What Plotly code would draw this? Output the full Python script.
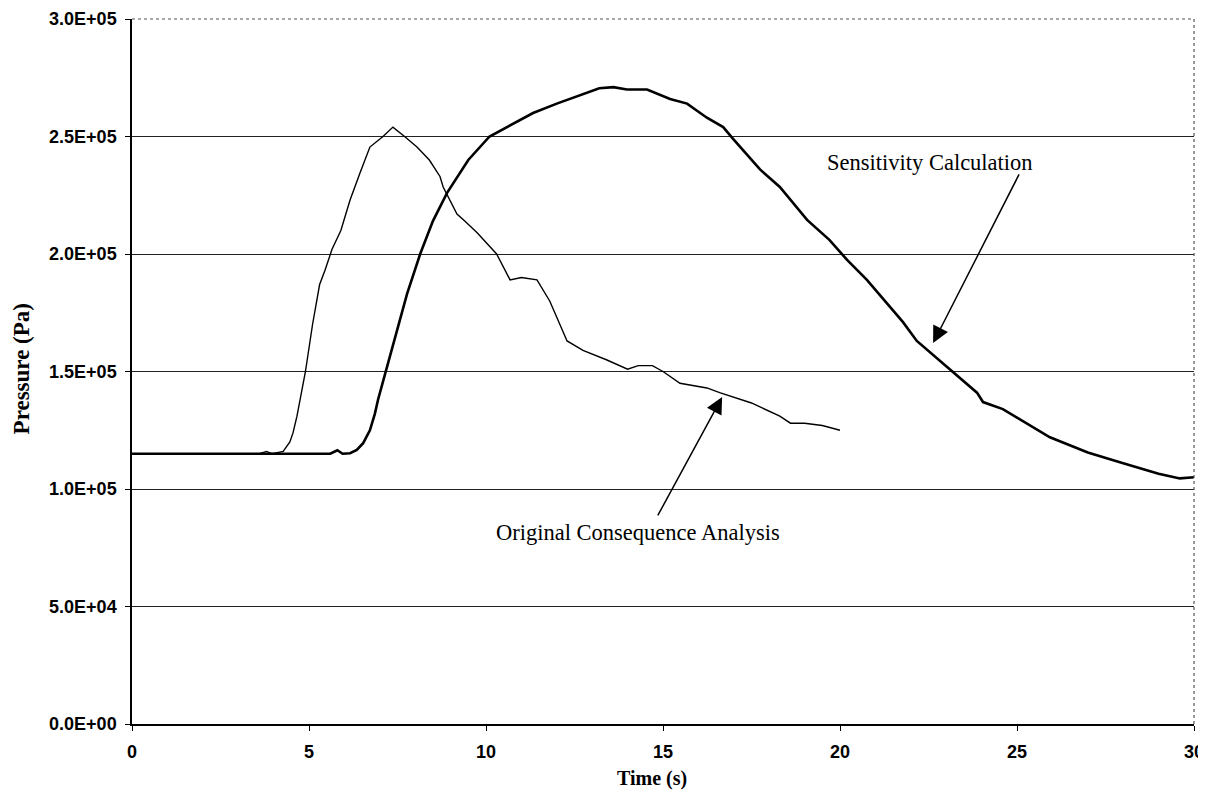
import plotly.graph_objects as go

# Original Consequence Analysis
orig_t = [0, 3.6, 3.8, 3.95, 4.1, 4.27, 4.46, 4.55, 4.66, 4.75, 4.9, 5.1, 5.3, 5.45, 5.65, 5.9,
          6.16, 6.44, 6.72, 7.09, 7.37, 7.7, 8.05, 8.4, 8.7, 8.79, 9.18, 9.4, 9.75, 10.3, 10.68,
          11.0, 11.44, 11.8, 12.29, 12.74, 13.4, 14.0, 14.3, 14.7, 15.0, 15.48, 16.24, 16.6,
          17.0, 17.5, 18.3, 18.6, 19.0, 19.5, 20.0]
orig_p = [1.15e5, 1.15e5, 1.16e5, 1.15e5, 1.155e5, 1.16e5, 1.2e5, 1.24e5, 1.31e5, 1.38e5, 1.5e5,
          1.7e5, 1.87e5, 1.93e5, 2.02e5, 2.1e5, 2.23e5, 2.345e5, 2.455e5, 2.5e5, 2.54e5, 2.5e5,
          2.455e5, 2.4e5, 2.33e5, 2.285e5, 2.17e5, 2.14e5, 2.09e5, 2.0e5, 1.89e5, 1.9e5, 1.89e5,
          1.8e5, 1.63e5, 1.59e5, 1.55e5, 1.51e5, 1.525e5, 1.525e5, 1.5e5, 1.45e5, 1.43e5, 1.41e5,
          1.39e5, 1.366e5, 1.31e5, 1.28e5, 1.28e5, 1.27e5, 1.25e5]

# Sensitivity Calculation
sens_t = [0, 5.6, 5.8, 5.95, 6.16, 6.35, 6.53, 6.72, 6.86, 6.95, 7.15, 7.45, 7.77, 8.14, 8.5,
          8.9, 9.5, 10.1, 10.7, 11.33, 12.0, 12.74, 13.2, 13.6, 13.98, 14.55, 15.2, 15.68, 16.24,
          16.7, 16.98, 17.74, 18.3, 19.07, 19.7, 20.2, 20.76, 21.78, 22.17, 23.1, 23.87, 24.04,
          24.6, 25.93, 27.0, 28.0, 29.0, 29.6, 30.0]
sens_p = [1.15e5, 1.15e5, 1.165e5, 1.15e5, 1.152e5, 1.166e5, 1.195e5, 1.25e5, 1.32e5, 1.38e5,
          1.49e5, 1.66e5, 1.83e5, 2.0e5, 2.14e5, 2.26e5, 2.4e5, 2.5e5, 2.55e5, 2.6e5, 2.64e5,
          2.68e5, 2.705e5, 2.71e5, 2.70e5, 2.70e5, 2.66e5, 2.64e5, 2.58e5, 2.54e5, 2.49e5, 2.36e5,
          2.285e5, 2.145e5, 2.06e5, 1.975e5, 1.89e5, 1.71e5, 1.63e5, 1.51e5, 1.41e5, 1.37e5,
          1.34e5, 1.22e5, 1.155e5, 1.11e5, 1.065e5, 1.045e5, 1.05e5]

y_ticks = [0, 5e4, 1e5, 1.5e5, 2e5, 2.5e5, 3e5]
y_tick_labels = ["0.0E+00", "5.0E+04", "1.0E+05", "1.5E+05", "2.0E+05", "2.5E+05", "3.0E+05"]
x_ticks = [0, 5, 10, 15, 20, 25, 30]

fig = go.Figure()
fig.add_trace(go.Scatter(x=orig_t, y=orig_p, mode="lines",
                         line=dict(color="black", width=1.4), name="Original Consequence Analysis"))
fig.add_trace(go.Scatter(x=sens_t, y=sens_p, mode="lines",
                         line=dict(color="black", width=2.6), name="Sensitivity Calculation"))

tickfont = dict(family="Liberation Sans, Arial", size=18, color="black", weight="bold")
serif = "Liberation Serif, Times New Roman"
annfont = dict(family=serif, size=22.5, color="black")

# page body has an 8px margin; size the figure so the plot sits where the reference has it
fig.update_layout(
    width=1198, height=791,
    margin=dict(l=124, r=12, t=11, b=75),
    plot_bgcolor="white", paper_bgcolor="white",
    showlegend=False,
    xaxis=dict(range=[0, 30], tickvals=x_ticks, ticks="outside", ticklen=5, tickcolor="black",
               showline=True, linecolor="black", linewidth=1.5, showgrid=False, zeroline=False,
               tickfont=tickfont, automargin=False, ticklabelstandoff=6),
    yaxis=dict(range=[0, 3e5], tickvals=y_ticks, ticktext=y_tick_labels, ticks="outside",
               ticklen=5, tickcolor="black", showline=True, linecolor="black", linewidth=1.5,
               showgrid=True, gridcolor="#222222", gridwidth=1, zeroline=False,
               tickfont=tickfont, automargin=False, ticklabelstandoff=5),
)

# dotted top/right frame
fig.add_shape(type="line", xref="paper", yref="paper", x0=0, x1=1, y0=1, y1=1,
              line=dict(color="#555555", width=1.2, dash="dot"))
fig.add_shape(type="line", xref="paper", yref="paper", x0=1, x1=1, y0=0, y1=1,
              line=dict(color="#555555", width=1.2, dash="dot"))

# axis titles
fig.add_annotation(xref="paper", yref="paper", x=0.49, y=-0.0766, xanchor="center", yanchor="middle",
                   text="<b>Time (s)</b>", showarrow=False,
                   font=dict(family=serif, size=20, color="black"))
fig.add_annotation(xref="paper", yref="paper", x=-0.1045, y=0.503, xanchor="center", yanchor="middle",
                   text="<b>Pressure (Pa)</b>", showarrow=False, textangle=-90,
                   font=dict(family=serif, size=23, color="black"))

fig.add_annotation(x=22.54, y=2.391e5, text="Sensitivity Calculation", showarrow=False, font=annfont)
fig.add_annotation(x=14.29, y=8.13e4, text="Original Consequence Analysis", showarrow=False, font=annfont)

fig.add_annotation(x=22.63, y=1.621e5, ax=25.08, ay=2.345e5, axref="x", ayref="y",
                   text="", showarrow=True, arrowhead=2, arrowsize=2.2, arrowwidth=1.5, arrowcolor="black")
fig.add_annotation(x=16.67, y=1.391e5, ax=14.83, ay=8.81e4, axref="x", ayref="y",
                   text="", showarrow=True, arrowhead=2, arrowsize=2.2, arrowwidth=1.5, arrowcolor="black")

fig.write_html("out.html")
